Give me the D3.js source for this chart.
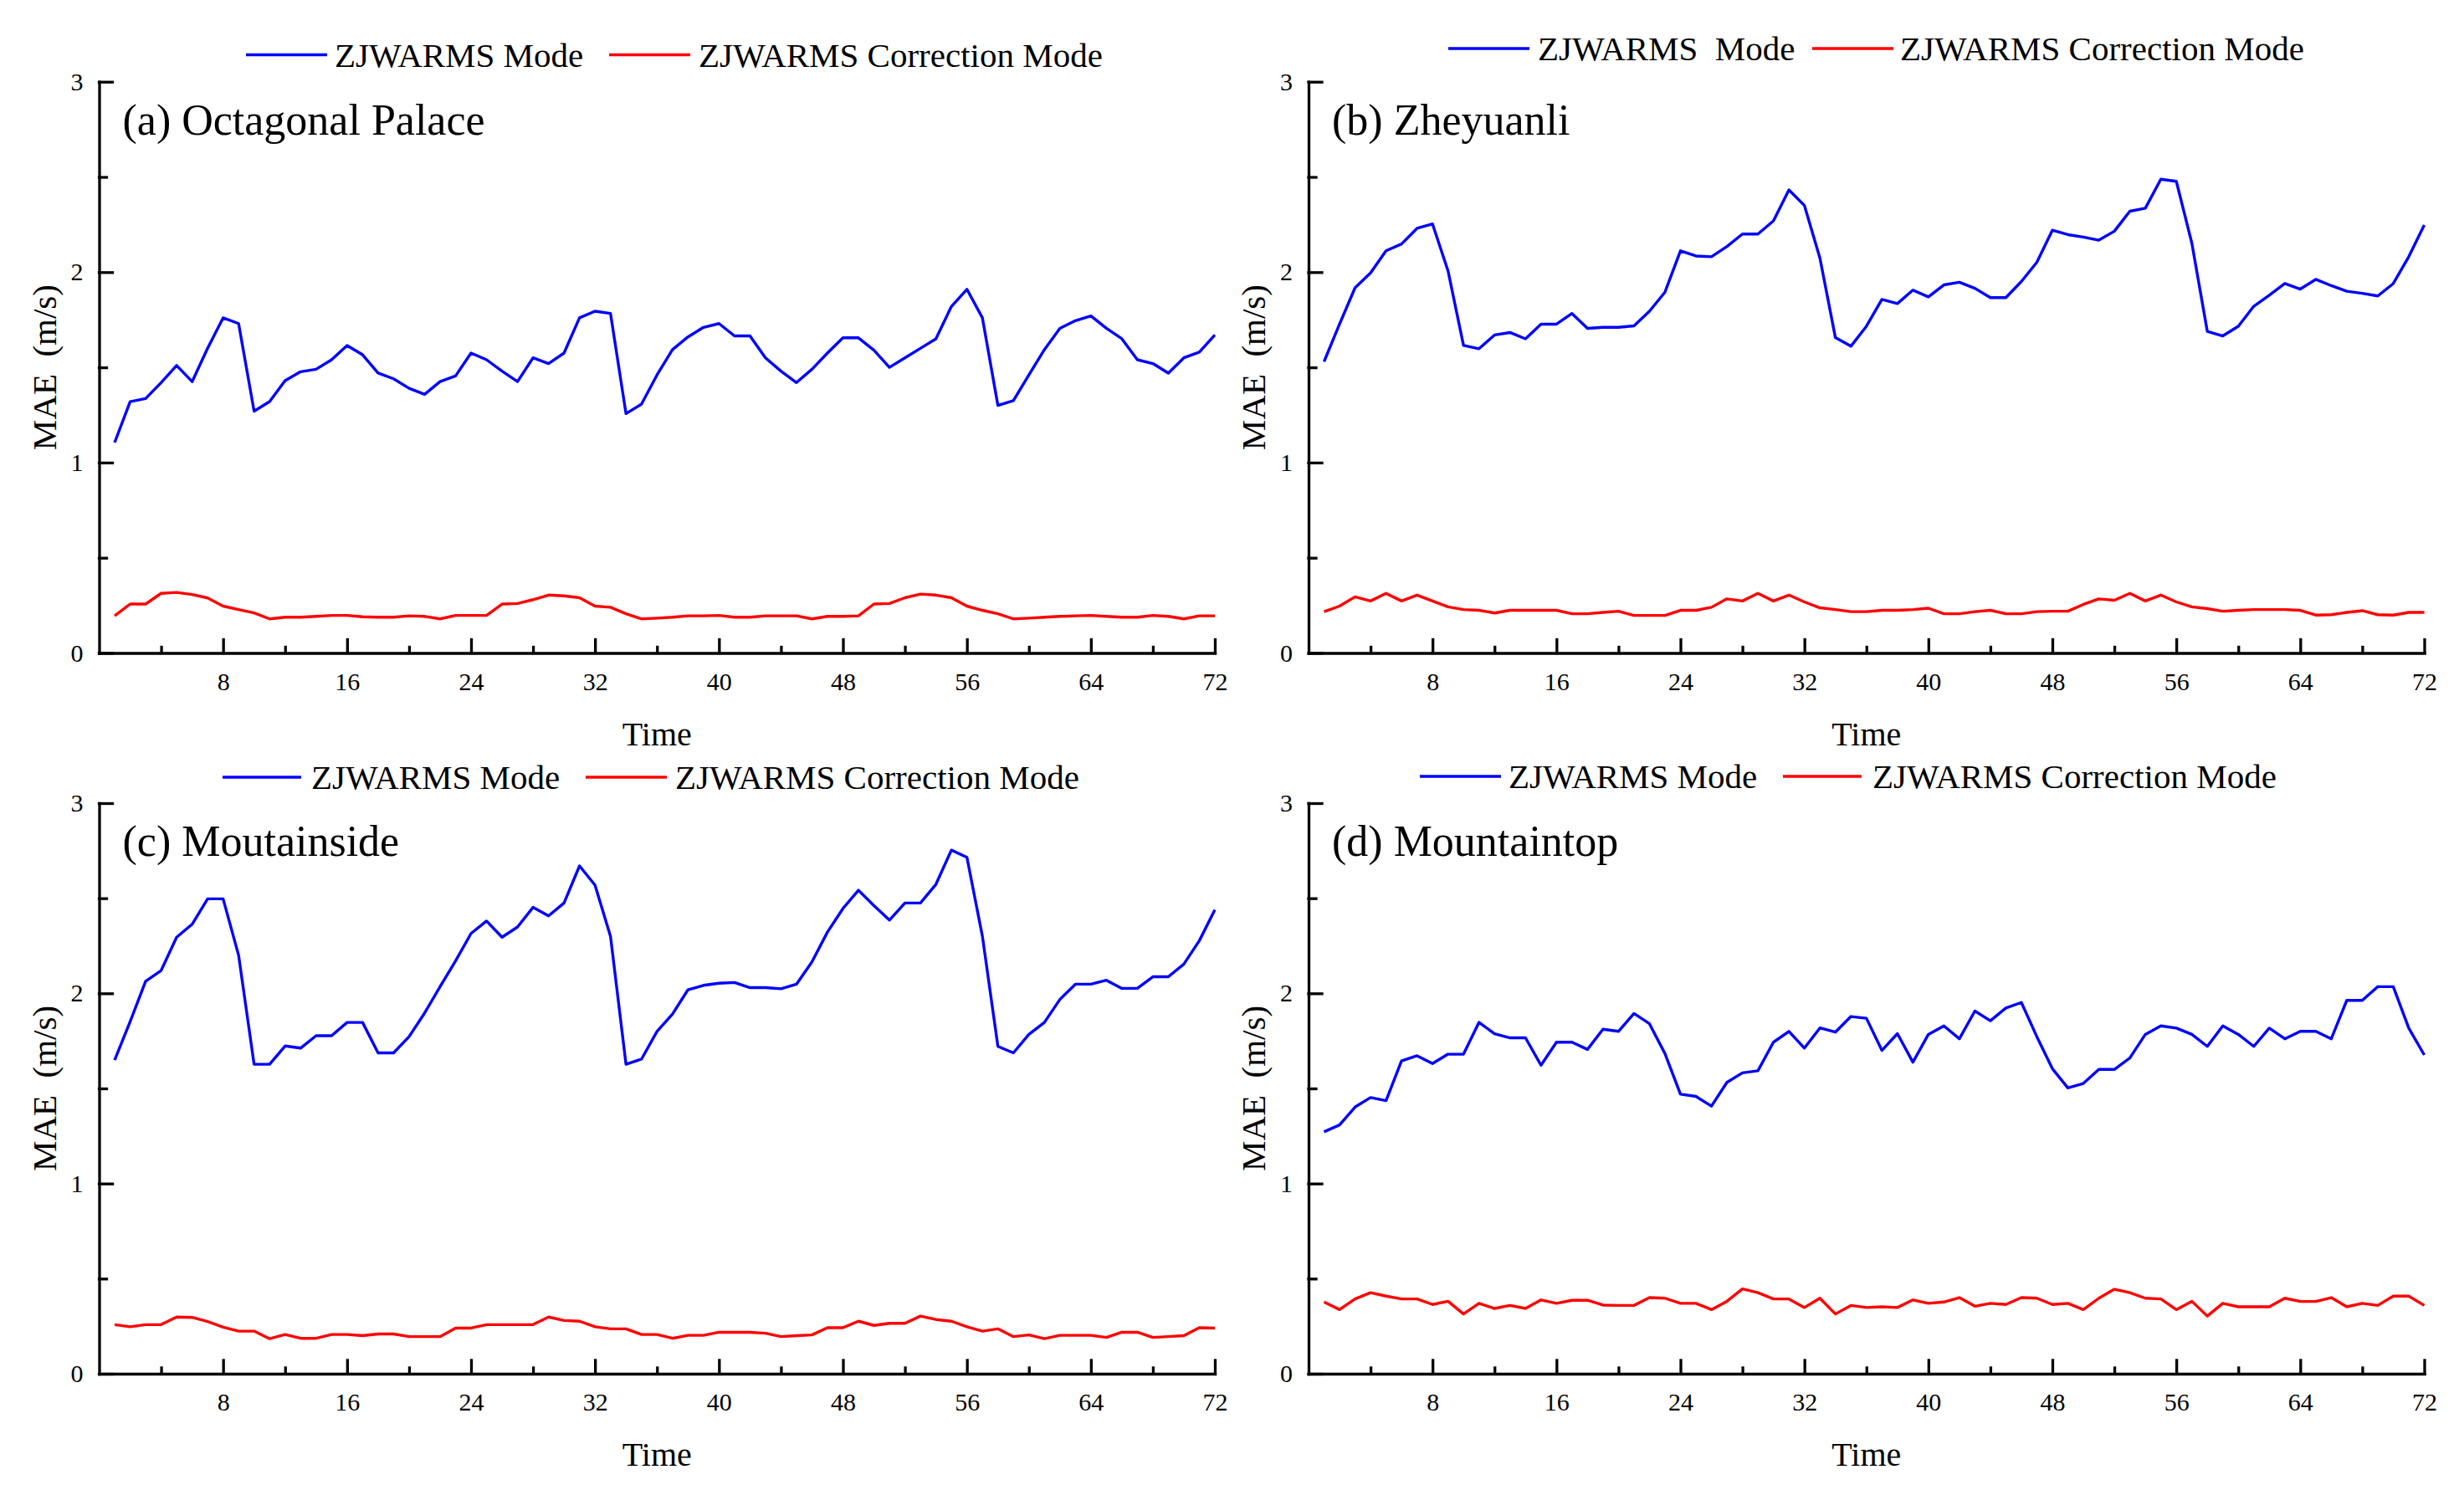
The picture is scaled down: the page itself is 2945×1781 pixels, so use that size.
<!DOCTYPE html>
<html>
<head>
<meta charset="utf-8">
<script src="https://cdn.jsdelivr.net/npm/d3@7"></script>
<style>
	body {margin: 0; background: #fff;}
	svg {display: block;}
	text {white-space: pre;}
</style>
</head>
<body>
<script>
// hours of the forecast and axis ticks
const hours = d3.range(1, 73)
const xMajor = d3.range(8, 73, 8)
const xMinor = d3.range(4, 72, 8)
const yMajor = [0, 1, 2, 3]
const yMinor = [0.5, 1.5, 2.5]

const stations = ["(a) Octagonal Palace", "(b) Zheyuanli", "(c) Moutainside", "(d) Mountaintop"]
const modeLabels = ["ZJWARMS Mode", "ZJWARMS  Mode", "ZJWARMS Mode", "ZJWARMS Mode"]
const corrLabel = "ZJWARMS Correction Mode"

// MAE (m/s)
const modeA = [1.105,1.32,1.336,1.42,1.51,1.425,1.60,1.76,1.73,1.27,
	1.32,1.43,1.477,1.49,1.54,1.615,1.566,1.47,1.44,1.39,
	1.358,1.425,1.455,1.575,1.54,1.48,1.425,1.55,1.52,1.575,
	1.76,1.795,1.783,1.257,1.307,1.46,1.593,1.66,1.71,1.73,
	1.665,1.665,1.55,1.48,1.42,1.49,1.575,1.655,1.655,1.59,
	1.50,1.55,1.60,1.65,1.82,1.91,1.76,1.30,1.325,1.46,
	1.593,1.705,1.745,1.77,1.705,1.65,1.54,1.52,1.47,1.55,
	1.58,1.67]
const corrA = [0.195,0.257,0.257,0.313,0.318,0.307,0.289,0.246,0.228,0.21,
	0.179,0.188,0.188,0.192,0.197,0.197,0.19,0.188,0.188,0.195,
	0.192,0.179,0.197,0.197,0.197,0.257,0.26,0.28,0.304,0.30,
	0.29,0.246,0.24,0.206,0.179,0.183,0.188,0.195,0.195,0.197,
	0.188,0.188,0.195,0.195,0.195,0.179,0.192,0.192,0.195,0.257,
	0.26,0.29,0.309,0.304,0.29,0.246,0.224,0.206,0.179,0.183,
	0.188,0.192,0.195,0.197,0.192,0.188,0.188,0.197,0.192,0.179,
	0.195,0.195]
const modeB = [1.53,1.727,1.918,1.996,2.112,2.148,2.23,2.253,2.007,1.615,
	1.598,1.67,1.683,1.65,1.727,1.727,1.783,1.705,1.71,1.71,
	1.718,1.795,1.895,2.112,2.085,2.081,2.135,2.20,2.20,2.269,
	2.432,2.35,2.074,1.656,1.611,1.716,1.857,1.835,1.906,1.87,
	1.933,1.947,1.915,1.866,1.866,1.951,2.052,2.22,2.197,2.184,
	2.168,2.215,2.32,2.336,2.488,2.477,2.153,1.689,1.665,1.716,
	1.821,1.879,1.94,1.911,1.962,1.929,1.90,1.889,1.875,1.94,
	2.081,2.247]
const corrB = [0.217,0.246,0.295,0.273,0.313,0.273,0.304,0.273,0.242,0.228,
	0.224,0.21,0.224,0.224,0.224,0.224,0.206,0.206,0.213,0.219,
	0.197,0.197,0.197,0.224,0.224,0.24,0.284,0.273,0.313,0.273,
	0.304,0.268,0.237,0.228,0.217,0.217,0.224,0.224,0.228,0.235,
	0.206,0.206,0.217,0.224,0.206,0.206,0.217,0.219,0.219,0.255,
	0.284,0.277,0.313,0.273,0.304,0.268,0.242,0.233,0.219,0.224,
	0.228,0.228,0.228,0.224,0.199,0.201,0.213,0.222,0.201,0.199,
	0.213,0.213]
const modeC = [1.649,1.851,2.064,2.12,2.295,2.363,2.497,2.497,2.2,1.627,
	1.627,1.723,1.712,1.777,1.777,1.847,1.847,1.687,1.687,1.772,
	1.896,2.035,2.17,2.315,2.38,2.295,2.349,2.452,2.407,2.475,
	2.67,2.569,2.30,1.627,1.654,1.80,1.891,2.019,2.042,2.053,
	2.057,2.03,2.03,2.024,2.048,2.165,2.322,2.446,2.542,2.461,
	2.385,2.475,2.475,2.573,2.753,2.715,2.30,1.721,1.687,1.784,
	1.847,1.968,2.048,2.048,2.069,2.026,2.026,2.087,2.087,2.154,
	2.277,2.439]
const corrC = [0.258,0.247,0.258,0.258,0.298,0.296,0.274,0.245,0.224,0.224,
	0.184,0.206,0.186,0.186,0.206,0.206,0.20,0.209,0.209,0.195,
	0.195,0.195,0.24,0.24,0.258,0.258,0.258,0.258,0.298,0.28,
	0.276,0.247,0.236,0.236,0.206,0.206,0.186,0.202,0.202,0.218,
	0.218,0.218,0.213,0.195,0.20,0.204,0.242,0.242,0.276,0.254,
	0.265,0.265,0.303,0.285,0.276,0.247,0.224,0.236,0.195,0.204,
	0.184,0.202,0.202,0.202,0.191,0.218,0.218,0.191,0.195,0.20,
	0.242,0.24]
const modeD = [1.272,1.308,1.402,1.452,1.436,1.645,1.672,1.631,1.68,1.68,
	1.847,1.788,1.766,1.766,1.622,1.743,1.743,1.705,1.811,1.80,
	1.894,1.84,1.683,1.47,1.458,1.407,1.532,1.582,1.593,1.743,
	1.80,1.712,1.818,1.796,1.878,1.869,1.70,1.788,1.638,1.784,
	1.829,1.761,1.907,1.856,1.923,1.952,1.772,1.604,1.503,1.526,
	1.60,1.60,1.66,1.784,1.829,1.817,1.784,1.721,1.829,1.784,
	1.721,1.817,1.761,1.80,1.80,1.761,1.963,1.963,2.035,2.035,
	1.817,1.676]
const corrD = [0.377,0.337,0.393,0.426,0.408,0.393,0.393,0.364,0.381,0.314,
	0.37,0.343,0.359,0.343,0.388,0.37,0.386,0.386,0.361,0.359,
	0.359,0.40,0.397,0.37,0.37,0.337,0.381,0.446,0.426,0.393,
	0.393,0.348,0.397,0.314,0.359,0.348,0.352,0.348,0.388,0.37,
	0.377,0.40,0.355,0.37,0.364,0.40,0.397,0.364,0.37,0.337,
	0.397,0.444,0.426,0.397,0.393,0.337,0.381,0.303,0.37,0.352,
	0.352,0.352,0.397,0.38,0.38,0.40,0.352,0.37,0.359,0.408,
	0.408,0.359]

const W = 2945, H = 1781
const plotW = 1333.5
const serif = "'Liberation Serif','Times New Roman',serif"

// panel frames and legend spots (layout only)
const panels = [
	{title: stations[0], label: modeLabels[0], mode: modeA, corr: corrA, left: 118.5, top: 97.7, bottom: 780.5,
		leg: {y: 65.5, b: [175.5, 272.5], bt: 281.5, r: [609.5, 706.5], rt: 716.5}},
	{title: stations[1], label: modeLabels[1], mode: modeB, corr: corrB, left: 1564, top: 97.7, bottom: 780.5,
		leg: {y: 58, b: [167, 264], bt: 274, r: [602, 699], rt: 707}},
	{title: stations[2], label: modeLabels[2], mode: modeC, corr: corrC, left: 118.5, top: 960, bottom: 1642,
		leg: {y: 929, b: [147.5, 241.5], bt: 253.5, r: [581.5, 678.5], rt: 688.5}},
	{title: stations[3], label: modeLabels[3], mode: modeD, corr: corrD, left: 1564, top: 960, bottom: 1642,
		leg: {y: 928, b: [133, 230], bt: 239, r: [567, 661], rt: 674}}
]

//create svg
const svg = d3.select("body")
	.append("svg")
	.attr("width", W)
	.attr("height", H)
	.attr("viewBox", [0, 0, W, H])
	.style("font-family", serif)

svg.append("rect").attr("width", W).attr("height", H).attr("fill", "white")

panels.forEach(p => {
	const x = d3.scaleLinear().domain([0, 72]).range([p.left, p.left + plotW])
	const y = d3.scaleLinear().domain([0, 3]).range([p.bottom, p.top])
	const g = svg.append("g")

	//minor ticks
	g.append("g")
		.attr("transform", `translate(0,${p.bottom})`)
		.call(d3.axisBottom(x).tickValues(xMinor).tickSize(-7).tickSizeOuter(0).tickFormat(""))
		.call(a => a.select(".domain").remove())
	g.append("g")
		.attr("transform", `translate(${p.left},0)`)
		.call(d3.axisLeft(y).tickValues(yMinor).tickSize(-9).tickSizeOuter(0).tickFormat(""))
		.call(a => a.select(".domain").remove())

	//major axes
	const xAxisGroup = g.append("g")
		.attr("transform", `translate(0,${p.bottom})`)
		.call(d3.axisBottom(x).tickValues(xMajor).tickSize(-16).tickSizeOuter(0).tickPadding(23))
	const yAxisGroup = g.append("g")
		.attr("transform", `translate(${p.left},0)`)
		.call(d3.axisLeft(y).tickValues(yMajor).tickSize(-16).tickSizeOuter(0).tickPadding(19).tickFormat(d3.format("d")))

	g.selectAll(".tick line, .domain")
		.attr("stroke", "black")
		.attr("stroke-width", 3.3)
		.attr("stroke-linecap", "square")
	g.selectAll("g").attr("font-family", serif).attr("font-size", 30)
	g.selectAll(".tick text").attr("fill", "black")

	//axis titles
	g.append("text")
		.attr("x", (x(0) + x(72)) / 2)
		.attr("y", p.bottom + 110)
		.attr("text-anchor", "middle")
		.attr("font-size", 40)
		.text("Time")
	g.append("text")
		.attr("transform", `translate(${p.left - 66},${(p.top + p.bottom) / 2}) rotate(-90)`)
		.attr("text-anchor", "middle")
		.attr("dy", "0.35em")
		.attr("font-size", 41)
		.text("MAE  (m/s)")

	//panel title
	g.append("text")
		.attr("x", p.left + 28)
		.attr("y", p.top + 63)
		.attr("font-size", 52)
		.text(p.title)

	//lines
	const line = d3.line()
		.x((d, i) => x(hours[i]))
		.y(d => y(d))

	g.append("path")
		.datum(p.mode)
		.attr("fill", "none")
		.attr("stroke", "#0000ff")
		.attr("stroke-width", 3.4)
		.attr("stroke-linejoin", "round")
		.attr("d", line)
	g.append("path")
		.datum(p.corr)
		.attr("fill", "none")
		.attr("stroke", "#ff0000")
		.attr("stroke-width", 3.4)
		.attr("stroke-linejoin", "round")
		.attr("d", line)

	//legend
	const leg = g.append("g").attr("font-size", 41)
	leg.append("line")
		.attr("x1", p.left + p.leg.b[0]).attr("x2", p.left + p.leg.b[1])
		.attr("y1", p.leg.y).attr("y2", p.leg.y)
		.attr("stroke", "#0000ff").attr("stroke-width", 3.4)
	leg.append("text")
		.attr("x", p.left + p.leg.bt).attr("y", p.leg.y)
		.attr("dy", "0.35em")
		.text(p.label)
	leg.append("line")
		.attr("x1", p.left + p.leg.r[0]).attr("x2", p.left + p.leg.r[1])
		.attr("y1", p.leg.y).attr("y2", p.leg.y)
		.attr("stroke", "#ff0000").attr("stroke-width", 3.4)
	leg.append("text")
		.attr("x", p.left + p.leg.rt).attr("y", p.leg.y)
		.attr("dy", "0.35em")
		.text(corrLabel)
})
</script>
</body>
</html>
